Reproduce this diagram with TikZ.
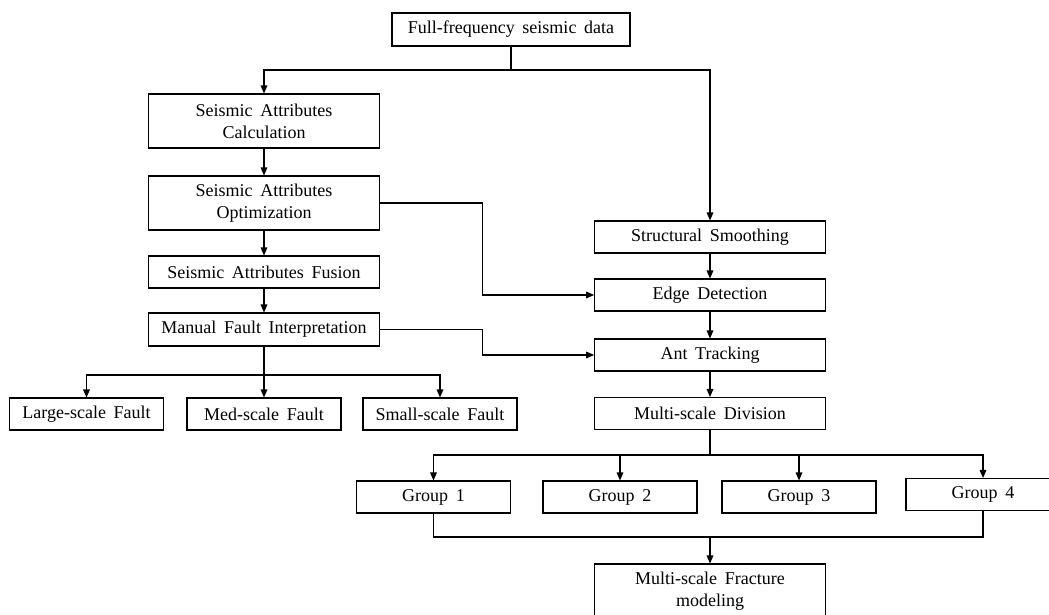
\documentclass[tikz,border=0pt]{standalone}
\usepackage{fontspec}
\setmainfont[WordSpace=1.7]{Liberation Serif}
\usetikzlibrary{arrows.meta}
\tikzset{
    box/.style={draw, line width=0.8pt, inner sep=0pt, minimum width=173pt, minimum height=24pt, align=center, font=\fontsize{13.5}{16.5}\selectfont}, % process box
    small box/.style={box, minimum width=115.5pt}, % fault / group box
    tall box/.style={box, minimum height=40.5pt}, % two-line box
    link/.style={line width=0.8pt}, % plain connector
    arr/.style={link, -{Triangle[length=6pt,width=5pt]}} % arrow connector
}

\begin{document}
\begin{tikzpicture}[x=0.75pt, y=-0.75pt]

    \clip (0,0) rectangle (1049,614);

    \node[box, minimum width=178.5pt, minimum height=24.75pt] (data) at (511,29.5) {Full-frequency seismic data};

    \node[tall box] (calc) at (264,121) {Seismic Attributes\\Calculation};
    \node[tall box] (optim) at (264,203) {Seismic Attributes\\Optimization};
    \node[box] (fusion) at (264,272) {Seismic Attributes Fusion};
    \node[box, minimum height=24.75pt] (manual) at (264,329.5) {Manual Fault Interpretation};

    \node[small box] (large) at (86.5,414) {Large-scale Fault};
    \node[small box] (med) at (264,414) {Med-scale Fault};
    \node[small box] (small) at (440,414) {Small-scale Fault};

    \node[box] (smooth) at (710,237) {Structural Smoothing};
    \node[box] (edge) at (710,295) {Edge Detection};
    \node[box] (ant) at (710,355) {Ant Tracking};
    \node[box] (division) at (710,413.5) {Multi-scale Division};

    \node[small box] (g1) at (433.5,497) {Group 1};
    \node[small box] (g2) at (620,497) {Group 2};
    \node[small box] (g3) at (799,497) {Group 3};
    \node[small box] (g4) at (983,494.5) {Group 4};

    \node[tall box] (model) at (710,591) {Multi-scale Fracture\\modeling};

    \coordinate (split) at (511,70);
    \coordinate (fsplit) at (264,375);
    \coordinate (gsplit) at (710,455);
    \coordinate (gjoin) at (710,537);

    \draw[link] (data) -- (split);
    \draw[arr] (split) -| (calc);
    \draw[arr] (split) -| (smooth);

    \draw[arr] (calc) -- (optim);
    \draw[arr] (optim) -- (fusion);
    \draw[arr] (fusion) -- (manual);

    \draw[arr] (optim.east) -- ++(103,0) |- (edge.west);
    \draw[arr] (manual.east) -- ++(103,0) |- (ant.west);

    \draw[link] (manual) -- (fsplit);
    \draw[arr] (fsplit) -| (large);
    \draw[arr] (fsplit) -- (med);
    \draw[arr] (fsplit) -| (small);

    \draw[arr] (smooth) -- (edge);
    \draw[arr] (edge) -- (ant);
    \draw[arr] (ant) -- (division);

    \draw[link] (division) -- (gsplit);
    \draw[arr] (gsplit) -| (g1);
    \draw[arr] (gsplit) -| (g2);
    \draw[arr] (gsplit) -| (g3);
    \draw[arr] (gsplit) -| (g4);

    \draw[link] (g1) |- (gjoin);
    \draw[link] (g4) |- (gjoin);
    \draw[arr] (gjoin) -- (model);

\end{tikzpicture}
\end{document}
